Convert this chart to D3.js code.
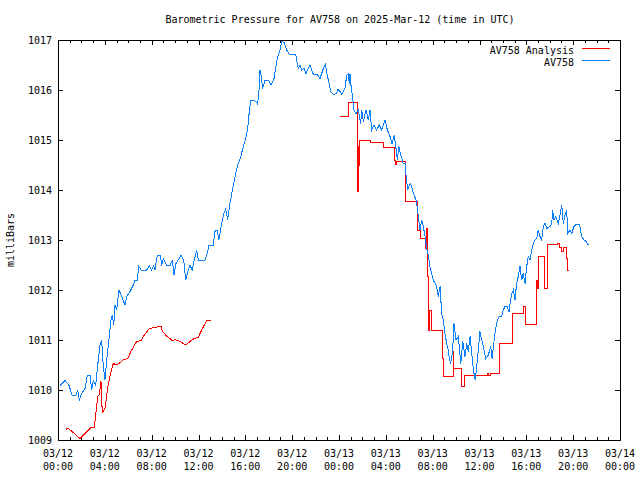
<!DOCTYPE html>
<html>
<head>
<meta charset="utf-8">
<script src="https://cdn.jsdelivr.net/npm/d3@7"></script>
<style>
  body { margin: 0; background: #fff; }
  svg { display: block; }
  text { font-family: "DejaVu Sans Mono", monospace; font-size: 10px; fill: #000; }
</style>
</head>
<body>
<svg id="chart" width="640" height="480"></svg>
<script>
// ---- Data (hours since 2025-03-12 00:00 UTC, pressure in millibars) ----
const title = "Barometric Pressure for AV758 on 2025-Mar-12 (time in UTC)";
const yLabel = "milliBars";
const seriesNames = ["AV758 Analysis", "AV758"];
const yTickValues = [1009, 1010, 1011, 1012, 1013, 1014, 1015, 1016, 1017];

const obsHours = [0.17,0.60,0.94,1.22,1.51,1.68,1.82,2.02,2.31,2.50,2.73,2.88,3.02,3.22,3.44,3.59,3.73,3.87,4.01,4.16,4.30,4.53,4.64,4.76,4.87,5.01,5.21,5.44,5.72,5.87,6.15,6.43,6.58,6.81,6.86,7.09,7.58,7.80,8.00,8.17,8.28,8.48,8.74,8.86,8.99,9.28,9.57,9.76,9.91,10.08,10.51,10.74,10.91,11.13,11.27,11.47,11.64,11.85,11.98,12.56,12.70,12.90,13.26,13.41,13.58,13.75,13.90,14.12,14.32,14.49,14.69,14.89,15.12,15.35,15.57,15.78,16.00,16.20,16.31,16.46,16.77,17.02,17.14,17.25,17.36,17.48,17.68,17.96,18.19,18.45,18.73,18.96,19.13,19.30,19.53,19.76,20.30,20.52,20.67,20.81,21.01,21.18,21.52,21.67,21.81,22.15,22.38,22.66,22.83,23.00,23.29,23.51,23.80,23.91,24.09,24.23,24.51,24.66,24.79,24.88,24.94,25.02,25.17,25.28,25.45,25.65,25.85,25.94,26.08,26.31,26.50,26.65,26.79,26.99,27.22,27.44,27.65,27.93,28.13,28.36,28.53,28.72,28.87,28.98,29.12,29.27,29.49,29.64,29.72,29.87,30.07,30.21,30.35,30.58,30.64,30.77,30.92,31.06,31.20,31.35,31.49,31.63,31.77,31.92,32.05,32.34,32.48,32.63,32.77,32.91,33.05,33.20,33.34,33.42,33.54,33.71,33.82,34.00,34.19,34.40,34.57,34.76,34.91,35.04,35.19,35.42,35.53,35.64,35.76,35.90,36.04,36.19,36.33,36.53,36.75,36.96,37.07,37.32,37.52,37.69,37.90,38.03,38.18,38.37,38.52,38.61,38.75,38.89,39.03,39.17,39.31,39.46,39.60,39.74,39.89,40.03,40.17,40.31,40.46,40.60,40.74,40.89,41.02,41.17,41.31,41.45,41.60,41.74,42.02,42.17,42.25,42.36,42.53,42.73,42.88,43.02,43.16,43.30,43.45,43.53,43.73,43.88,44.07,44.30,44.53,44.73,44.93,45.10,45.30];
const obsPressure = [1010.09,1010.19,1010.09,1009.89,1009.89,1009.99,1009.80,1009.93,1010.03,1010.30,1010.30,1010.00,1010.19,1010.10,1010.60,1010.90,1011.00,1010.47,1010.20,1010.60,1010.90,1011.40,1011.50,1011.30,1011.70,1011.60,1012.00,1011.87,1011.70,1011.87,1011.97,1012.10,1012.20,1012.20,1012.49,1012.40,1012.40,1012.49,1012.40,1012.49,1012.40,1012.69,1012.69,1012.49,1012.63,1012.49,1012.49,1012.60,1012.30,1012.53,1012.69,1012.60,1012.20,1012.40,1012.49,1012.40,1012.60,1012.80,1012.60,1012.60,1012.69,1012.90,1012.90,1013.17,1013.20,1013.01,1013.23,1013.50,1013.62,1013.41,1013.73,1014.00,1014.27,1014.50,1014.63,1014.83,1015.00,1015.23,1015.50,1015.80,1015.80,1015.73,1015.87,1016.40,1016.27,1016.03,1016.20,1016.20,1016.10,1016.23,1016.63,1016.80,1016.98,1016.95,1016.80,1016.71,1016.71,1016.43,1016.49,1016.40,1016.43,1016.33,1016.50,1016.40,1016.31,1016.31,1016.23,1016.43,1016.51,1016.30,1015.97,1015.91,1015.93,1016.01,1015.97,1015.91,1016.03,1016.30,1016.32,1016.13,1016.32,1016.10,1015.83,1015.60,1015.53,1015.60,1015.33,1015.60,1015.37,1015.60,1015.40,1015.60,1015.20,1015.30,1015.20,1015.30,1015.20,1015.40,1015.20,1015.07,1014.93,1015.10,1014.83,1014.60,1014.87,1014.70,1014.53,1014.53,1014.30,1014.00,1014.13,1014.07,1013.93,1013.80,1013.73,1013.47,1013.20,1013.40,1013.27,1013.07,1012.83,1012.70,1012.47,1012.33,1012.20,1012.07,1011.87,1012.07,1011.53,1011.40,1011.13,1010.93,1010.80,1010.63,1010.53,1010.80,1011.33,1011.00,1011.07,1010.53,1010.97,1010.67,1010.93,1010.77,1011.07,1010.53,1010.33,1010.20,1010.47,1010.80,1011.17,1011.00,1010.87,1010.63,1010.70,1010.87,1010.63,1011.13,1011.40,1011.47,1011.47,1011.60,1011.67,1011.67,1011.57,1011.73,1011.93,1012.00,1011.80,1012.13,1012.27,1012.47,1012.20,1012.33,1012.13,1012.47,1012.67,1012.60,1012.80,1012.93,1013.00,1013.03,1013.20,1013.07,1013.00,1013.27,1013.33,1013.23,1013.27,1013.33,1013.60,1013.40,1013.47,1013.33,1013.50,1013.70,1013.33,1013.50,1013.60,1013.13,1013.20,1013.13,1013.27,1013.32,1013.32,1013.07,1013.00,1012.97,1012.90];

// Analysis, first segment (smooth)
const anaHoursA = [0.67,0.85,1.88,2.82,3.10,3.39,3.53,3.67,3.78,4.01,4.30,4.50,4.72,5.01,5.30,5.58,5.95,6.29,6.72,7.09,7.43,7.80,8.28,8.80,8.91,9.28,9.76,9.99,10.42,10.91,11.27,11.64,11.98,12.27,12.70,13.04];
const anaPressureA = [1009.21,1009.24,1009.03,1009.25,1009.25,1009.87,1009.91,1010.17,1009.55,1009.63,1010.13,1010.33,1010.53,1010.50,1010.55,1010.60,1010.63,1010.80,1010.97,1010.99,1011.12,1011.23,1011.25,1011.28,1011.17,1011.08,1010.99,1011.01,1010.97,1010.90,1010.97,1011.03,1011.05,1011.20,1011.39,1011.39];

// Analysis, second segment (stepped; each value held until the next)
const anaHoursB = [24.09,24.80,25.57,25.63,25.68,25.75,26.73,27.78,28.78,28.84,28.91,29.72,30.74,30.97,31.35,31.49,31.54,31.63,31.77,31.86,32.82,32.91,33.77,33.82,34.42,34.76,36.67,36.81,36.98,37.75,38.80,39.74,39.89,40.83,40.94,41.02,41.59,41.85,42.65,42.82,43.02,43.16,43.45,43.50,43.67];
const anaPressureB = [1015.47,1015.75,1013.97,1014.87,1014.50,1015.00,1014.95,1014.85,1014.60,1014.52,1014.58,1013.77,1013.20,1013.03,1012.83,1013.23,1012.27,1011.20,1011.60,1011.20,1010.63,1010.27,1010.77,1010.43,1010.07,1010.30,1010.33,1010.30,1010.33,1010.93,1011.53,1011.67,1011.32,1012.20,1012.04,1012.67,1012.03,1012.91,1012.93,1012.85,1012.77,1012.85,1012.63,1012.40,1012.40];

const colors = { analysis: "#ff0000", obs: "#0a80ff" };

// ---- Build ----
const base = Date.UTC(2025, 2, 12, 0, 0);
const toDate = h => new Date(base + h * 3600e3);
const zip = (hs, ps) => hs.map((h, i) => ({ t: toDate(h), p: ps[i] }));
const obs = zip(obsHours, obsPressure);
const anaA = zip(anaHoursA, anaPressureA);
const anaB = zip(anaHoursB, anaPressureB);

const margin = { left: 58, right: 20, top: 40, bottom: 40 };
const W = 640, H = 480;
const svg = d3.select("#chart");

const x = d3.scaleUtc().domain([new Date(base), new Date(base + 48 * 3600e3)]).range([margin.left, W - margin.right]);
const y = d3.scaleLinear().domain([1009, 1017]).range([H - margin.bottom, margin.top]);

// Title
svg.append("text").attr("x", 340).attr("y", 23).attr("text-anchor", "middle").text(title);

// Y label
svg.append("text").attr("transform", "translate(14,240) rotate(-90)").attr("text-anchor", "middle").text(yLabel);

const ax = svg.append("g").attr("shape-rendering", "crispEdges");

// Y axis left with labels
const yAxisL = d3.axisLeft(y).tickValues(yTickValues).tickSize(-5).tickPadding(6).tickFormat(d3.format("d"));
ax.append("g").attr("transform", `translate(${margin.left},0)`).call(yAxisL)
  .call(g => g.select(".domain").remove())
  .call(g => g.selectAll("text").style("font-family", "DejaVu Sans Mono").style("font-size", "10px"));
// Y axis right (mirror)
ax.append("g").attr("transform", `translate(${W - margin.right},0)`)
  .call(d3.axisRight(y).tickValues(yTickValues).tickSize(-5).tickFormat(""))
  .call(g => g.select(".domain").remove());

// X axis bottom/top, major 4h, minor 1h
const major = x.ticks(d3.utcHour.every(4));
const minor = x.ticks(d3.utcHour.every(1));
[[H - margin.bottom, d3.axisBottom], [margin.top, d3.axisTop]].forEach(([yy, fn]) => {
  ax.append("g").attr("transform", `translate(0,${yy})`)
    .call(fn(x).tickValues(minor).tickSize(-3).tickFormat(""))
    .call(g => g.select(".domain").remove());
  ax.append("g").attr("transform", `translate(0,${yy})`)
    .call(fn(x).tickValues(major).tickSize(-5).tickFormat(""))
    .call(g => g.select(".domain").remove());
});

// X tick labels (two lines)
const fmtDate = d3.utcFormat("%m/%d"), fmtTime = d3.utcFormat("%H:%M");
const lbl = svg.append("g");
major.forEach(d => {
  const t = lbl.append("text").attr("text-anchor", "middle").attr("x", x(d));
  t.append("tspan").attr("x", x(d)).attr("y", 457).text(fmtDate(d));
  t.append("tspan").attr("x", x(d)).attr("y", 470).text(fmtTime(d));
});

// Frame
ax.append("rect").attr("x", margin.left).attr("y", margin.top)
  .attr("width", W - margin.left - margin.right).attr("height", H - margin.top - margin.bottom)
  .attr("fill", "none").attr("stroke", "#000").attr("stroke-width", 1);

// Lines
const lineLin = d3.line().x(d => x(d.t)).y(d => y(d.p));
const lineStep = d3.line().x(d => x(d.t)).y(d => y(d.p)).curve(d3.curveStepAfter);

const plot = svg.append("g").attr("shape-rendering", "crispEdges");
plot.append("path").datum(anaA).attr("d", lineLin).attr("fill", "none").attr("stroke", colors.analysis).attr("stroke-width", 1);
plot.append("path").datum(anaB).attr("d", lineStep).attr("fill", "none").attr("stroke", colors.analysis).attr("stroke-width", 1);
plot.append("path").datum(obs).attr("d", lineLin).attr("fill", "none").attr("stroke", colors.obs).attr("stroke-width", 1);

// Legend
const leg = svg.append("g");
const legendRows = [
  { name: seriesNames[0], color: colors.analysis, yy: 48 },
  { name: seriesNames[1], color: colors.obs, yy: 60 }
];
legendRows.forEach(r => {
  leg.append("text").attr("x", 574).attr("y", r.yy + 6).attr("text-anchor", "end").text(r.name);
  leg.append("rect").attr("x", 582).attr("y", r.yy).attr("width", 28).attr("height", 1)
    .attr("fill", r.color);
});
</script>
</body>
</html>
